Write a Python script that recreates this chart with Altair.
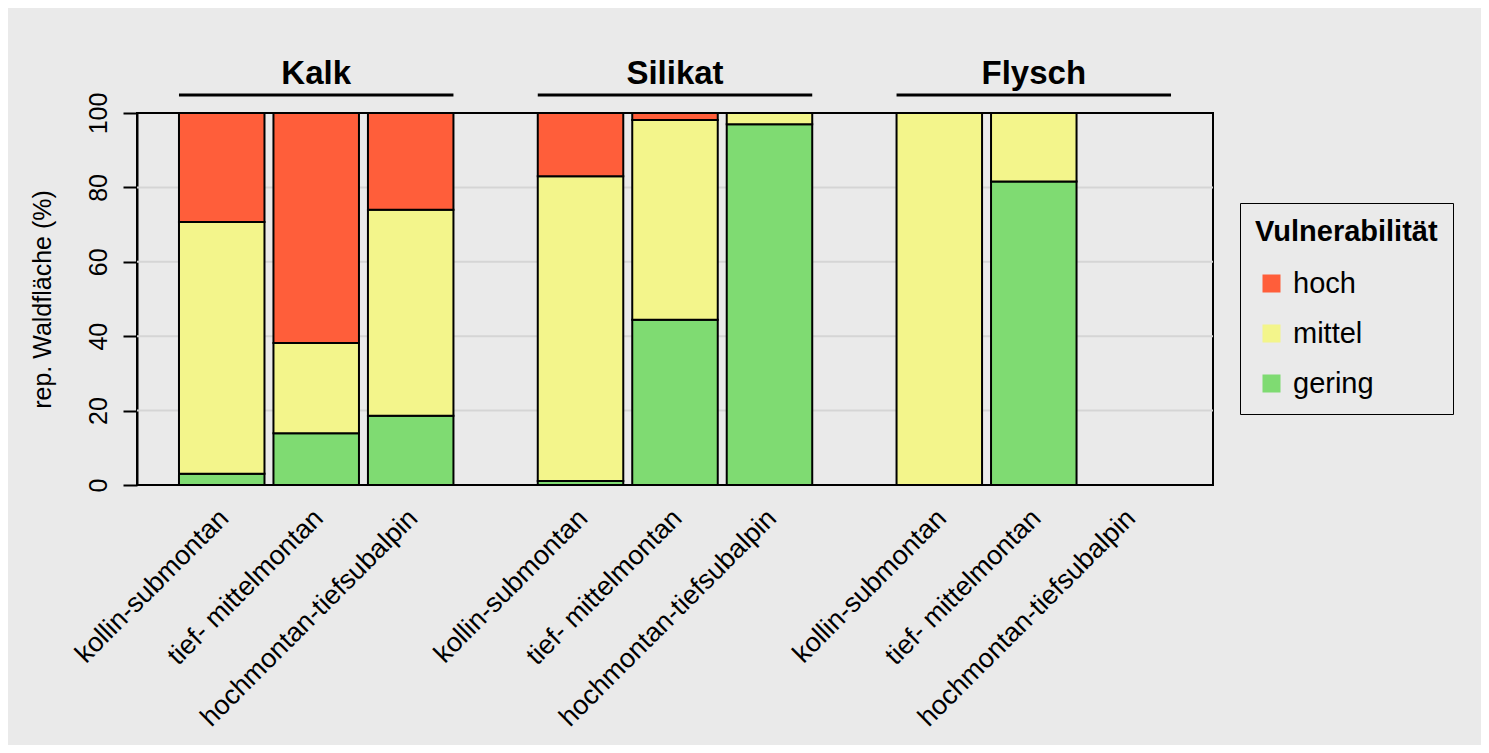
import altair as alt
import pandas as pd

groups = ["Kalk", "Silikat", "Flysch"]
zones = ["kollin-submontan", "tief- mittelmontan", "hochmontan-tiefsubalpin"]
classes = ["hoch", "mittel", "gering"]
colors = ["#FF5E3A", "#F3F58B", "#7FDB72"]
grid_values = [20, 40, 60, 80]
tick_values = [0, 20, 40, 60, 80, 100]

# percent values per group, per zone (order: zones)
gering = {"Kalk": [3.0, 13.9, 18.6], "Silikat": [1.1, 44.4, 97.0], "Flysch": [0.0, 81.6, None]}
mittel = {"Kalk": [67.7, 24.3, 55.4], "Silikat": [81.9, 53.7, 3.0], "Flysch": [100.0, 18.4, None]}
hoch = {"Kalk": [29.3, 61.8, 26.0], "Silikat": [17.0, 1.9, 0.0], "Flysch": [0.0, 0.0, None]}

rows = []
for g in groups:
    for i, z in enumerate(zones):
        for cls, src, o in [("gering", gering, 0), ("mittel", mittel, 1), ("hoch", hoch, 2)]:
            v = src[g][i]
            if v is None or v == 0:
                continue
            rows.append({"group": g, "zone": z, "klasse": cls, "value": v, "ord": o})
df = pd.DataFrame(rows)
labels_df = pd.DataFrame([{"group": g, "zone": z} for g in groups for z in zones])
groups_df = pd.DataFrame({"group": groups})
grid_df = pd.DataFrame({"v": grid_values})

FONT = "Liberation Sans"
W, H = 1076, 372

xscale = alt.Scale(domain=groups, paddingInner=0.235, paddingOuter=0.117)
xoff_scale = alt.Scale(domain=zones, paddingInner=0.095, paddingOuter=0)
yscale = alt.Scale(domain=[0, 100], nice=False)

yaxis = alt.Axis(values=tick_values, title="rep. Waldfläche (%)",
                 labelAngle=270, labelAlign="center", labelBaseline="bottom",
                 labelFontSize=25, labelFont=FONT, labelColor="black",
                 titleFont=FONT, titleFontSize=25, titleFontWeight="normal",
                 titleColor="black", titlePadding=31,
                 tickSize=14, tickWidth=2, tickColor="black", labelPadding=12,
                 domainColor="black", domainWidth=2, grid=False)

grid = alt.Chart(grid_df).mark_rule(color="#D5D5D5", strokeWidth=2).encode(
    y=alt.Y("v:Q", scale=yscale, axis=yaxis),
)

bars = alt.Chart(df).mark_bar(stroke="black", strokeWidth=2).encode(
    x=alt.X("group:N", scale=xscale, axis=None),
    xOffset=alt.XOffset("zone:N", scale=xoff_scale),
    y=alt.Y("value:Q", stack="zero", scale=yscale, axis=yaxis),
    color=alt.Color("klasse:N", scale=alt.Scale(domain=classes, range=colors),
                    legend=alt.Legend(title="Vulnerabilität", orient="none",
                                      legendX=1103, legendY=90,
                                      titleFont=FONT, titleFontSize=29, titleFontWeight="bold",
                                      titleColor="black", titleLimit=500,
                                      labelFont=FONT, labelFontSize=29, labelLimit=500,
                                      labelColor="black", symbolType="square", symbolSize=324,
                                      symbolStrokeWidth=0, symbolOpacity=1,
                                      strokeColor="black", padding=15, rowPadding=20,
                                      titlePadding=22, symbolOffset=2, labelOffset=7)),
    order=alt.Order("ord:Q"),
)

zone_labels = alt.Chart(labels_df).mark_text(
    angle=315, align="right", baseline="middle", font=FONT, fontSize=27, color="black", dx=4
).encode(
    x=alt.X("group:N", scale=xscale, axis=None),
    xOffset=alt.XOffset("zone:N", scale=xoff_scale),
    y=alt.value(H + 32),
    text="zone:N",
)

group_titles = alt.Chart(groups_df).mark_text(
    font=FONT, fontSize=33, fontWeight="bold", color="black", baseline="middle"
).encode(
    x=alt.X("group:N", scale=xscale, axis=None),
    y=alt.value(-39),
    text="group:N",
)

group_lines = alt.Chart(groups_df).mark_rect(color="black").encode(
    x=alt.X("group:N", scale=xscale, axis=None),
    y=alt.value(-19.5),
    y2=alt.value(-16.5),
)

chart = alt.layer(grid, bars, zone_labels, group_titles, group_lines).properties(
    width=W, height=H,
    autosize=alt.AutoSizeParams(type="none"),
    padding={"left": 129, "top": 105, "right": 268, "bottom": 260},
    background="#EAEAEA",
).configure_view(stroke="black", strokeWidth=2, fill="#EAEAEA")

chart.save("out.html", embed_options={"renderer": "svg", "actions": False})
